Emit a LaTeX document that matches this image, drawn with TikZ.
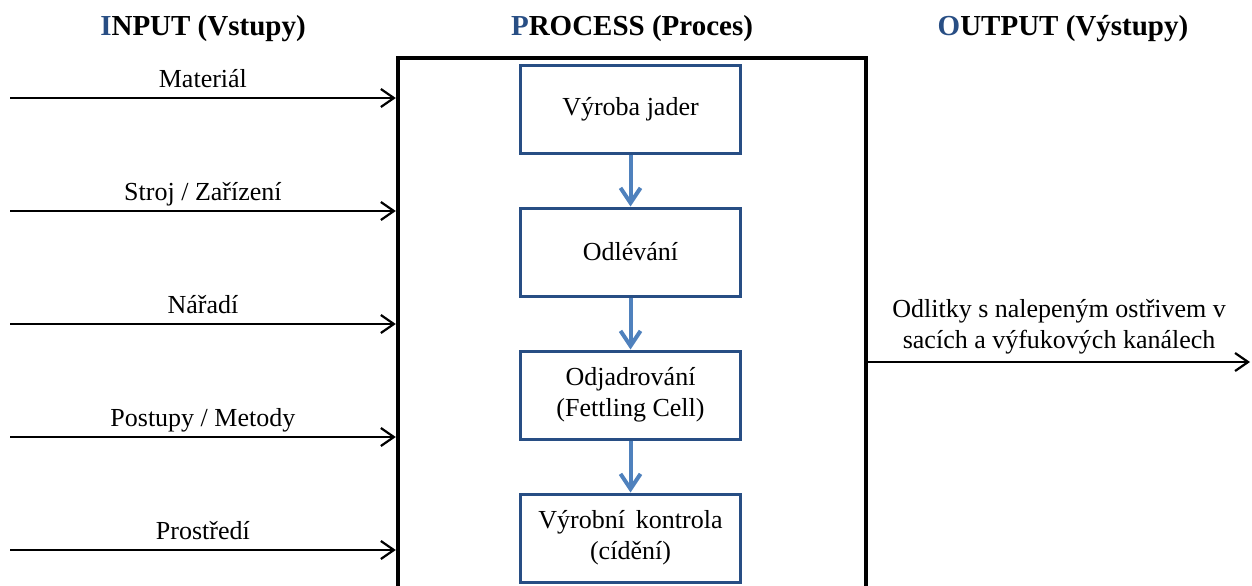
\documentclass[tikz,border=0pt]{standalone}
\usepackage{fontspec}
\setmainfont{Liberation Serif}
\usepackage{tikz}
\usetikzlibrary{positioning, arrows.meta}
\usepackage{xcolor}

\definecolor{procblue}{RGB}{40,78,132}
\definecolor{flowblue}{RGB}{79,129,189}

\begin{document}
\begin{tikzpicture}[
        x=0.5pt, y=-0.5pt,
        node distance = 26pt,
        head/.style = {font=\fontsize{14.5}{17}\selectfont\bfseries},
        lbl/.style = {font=\fontsize{13}{15.5}\selectfont, align=center},
        inlbl/.style = {lbl, text height=9pt, text depth=3pt, yshift=-1.5pt},
        bigbox/.style = {draw, line width=2.2pt, minimum width=234pt, minimum height=281pt, inner sep=0pt},
        box/.style = {draw=procblue, line width=1.5pt, minimum width=110pt, minimum height=44pt, align=center, font=\fontsize{13}{15.5}\selectfont},
        arrow/.style = {-{Straight Barb[length=6.5pt, width=9pt]}, line width=1.1pt},
        flow/.style = {-{Straight Barb[length=7.5pt, width=10pt]}, line width=2pt, draw=flowblue},
    ]
        \useasboundingbox (0,0) rectangle (1252,585);

        % headers
        \node[head] (hin) at (203,29) {\textcolor{procblue}{I}NPUT (Vstupy)};
        \node[head] (hproc) at (632,29) {\textcolor{procblue}{P}ROCESS (Proces)};
        \node[head] (hout) at (1063,29) {\textcolor{procblue}{O}UTPUT (Výstupy)};

        % process frame (bottom runs off the page)
        \node[bigbox] (proc) at (632,339) {};

        % process steps
        \node[box] (core) at (630.5,109) {Výroba jader};
        \node[box, below=of core] (cast) {Odlévání};
        \node[box, below=of cast] (decore) {Odjadrování\\(Fettling Cell)};
        \node[box, below=of decore] (check) {Výrobní\, kontrola\\(cídění)};
        \draw[flow] (core) -- (cast);
        \draw[flow] (cast) -- (decore);
        \draw[flow] (decore) -- (check);

        % inputs
        \coordinate (in1) at (10,98);
        \coordinate (in2) at (10,211);
        \coordinate (in3) at (10,324);
        \coordinate (in4) at (10,437);
        \coordinate (in5) at (10,550);
        \draw[arrow] (in1) -- node[inlbl, above] {Materiál} (in1 -| proc.west);
        \draw[arrow] (in2) -- node[inlbl, above] {Stroj / Zařízení} (in2 -| proc.west);
        \draw[arrow] (in3) -- node[inlbl, above] {Nářadí} (in3 -| proc.west);
        \draw[arrow] (in4) -- node[inlbl, above] {Postupy / Metody} (in4 -| proc.west);
        \draw[arrow] (in5) -- node[inlbl, above] {Prostředí} (in5 -| proc.west);

        % output
        \coordinate (out1) at (1250,362);
        \draw[arrow] (out1 -| proc.east) -- node[lbl, above] {Odlitky s nalepeným ostřivem v\\sacích a výfukových kanálech} (out1);
    \end{tikzpicture}
\end{document}
